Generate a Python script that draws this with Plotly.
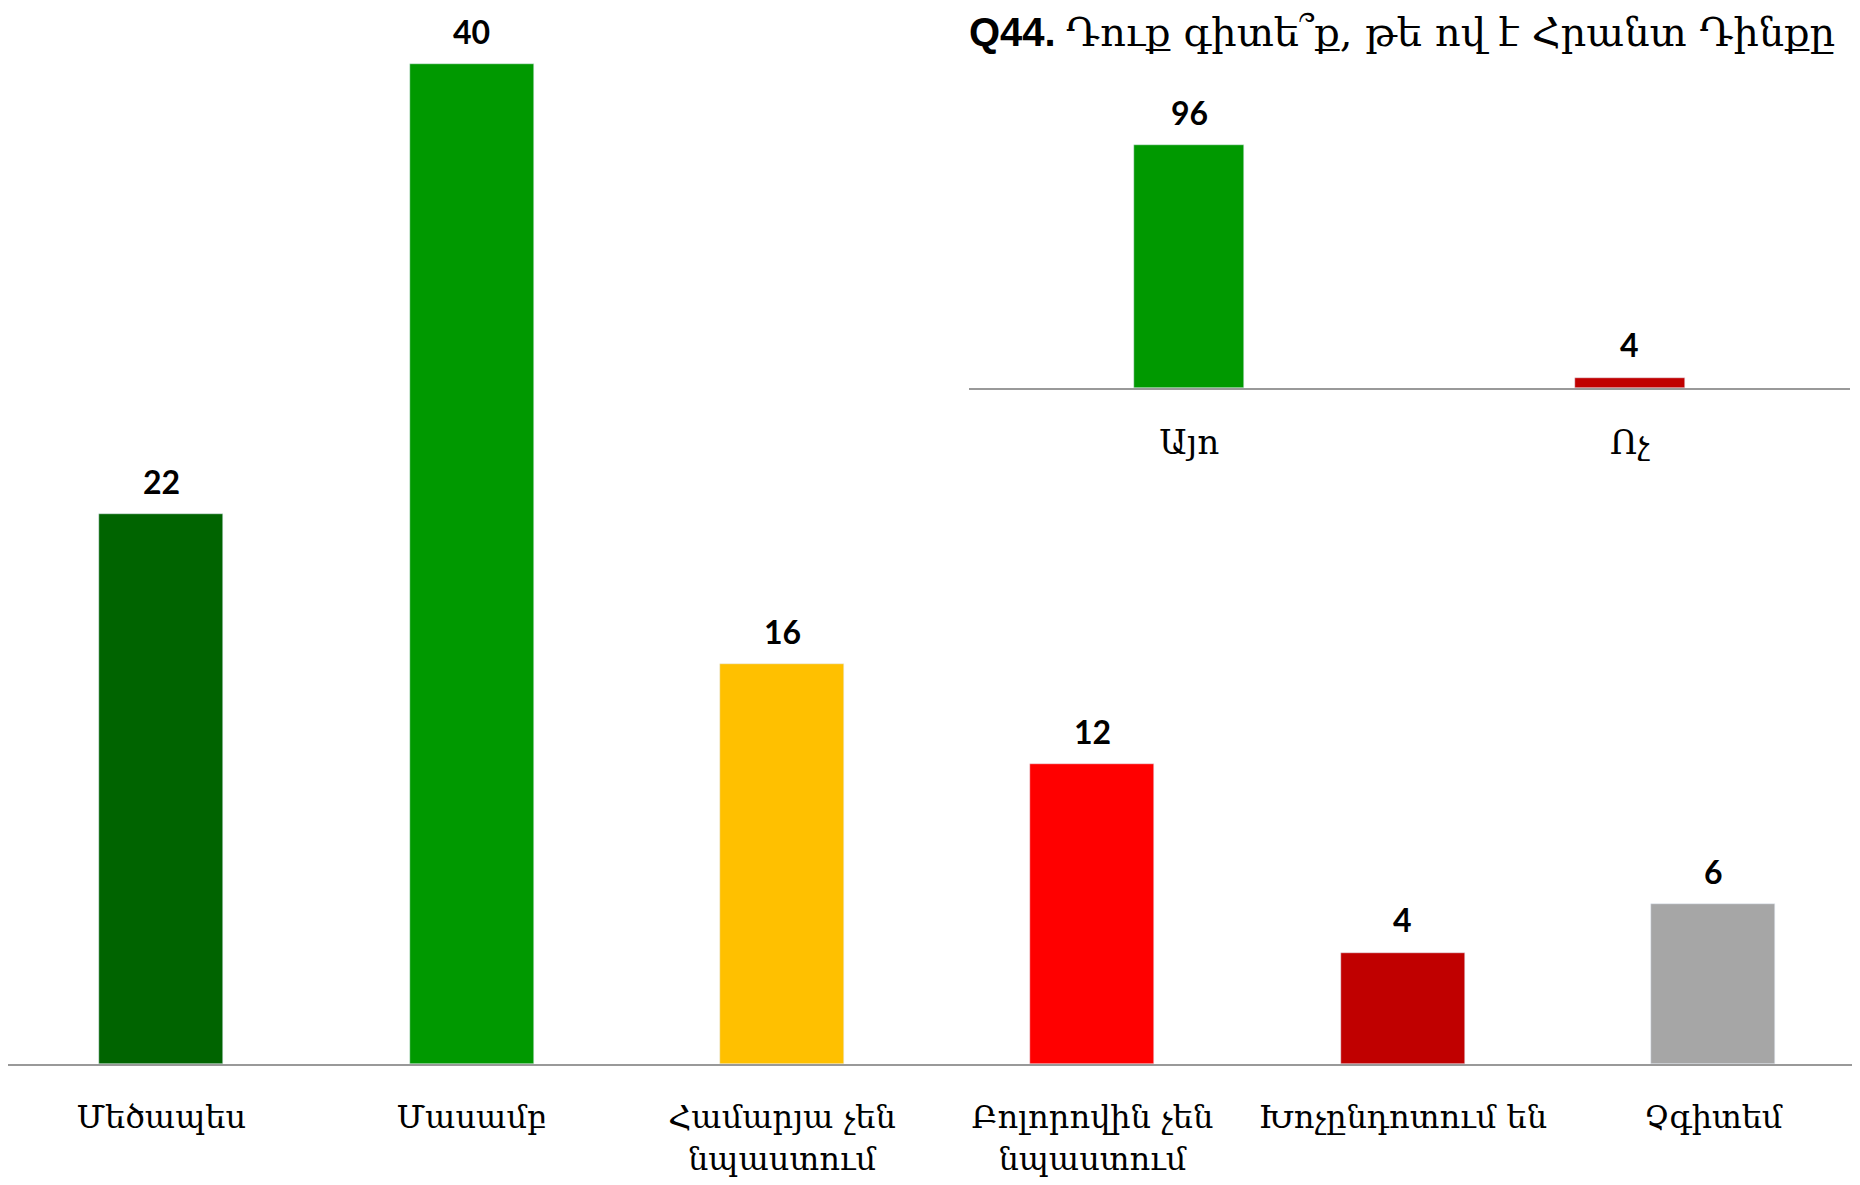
import plotly.graph_objects as go

# Main chart data
categories = ["Մեծապես", "Մասամբ", "Համարյա չեն<br>նպաստում", "Բոլորովին չեն<br>նպաստում",
              "Խոչընդոտում են", "Չգիտեմ"]
values = [22, 40, 16, 12, 4.45, 6.4]
colors = ["#006400", "#009900", "#FFC000", "#FF0000", "#C00000", "#A6A6A6"]

# Inset chart data
inset_categories = ["Այո", "Ոչ"]
inset_values = [96, 4]
inset_colors = ["#009900", "#C00000"]

title_bold = "Q44."
title_text = "Դուք գիտե՞ք, թե ով է Հրանտ Դինքը"

ARM_FONT = "DejaVu Serif, DejaVu Sans, serif"
NUM_FONT = "Lato, Liberation Sans, sans-serif"

# the page body has an 8px margin, so the figure is slightly smaller than the window
W, H = 1852, 1177
BASE = 1056          # main baseline (figure px)
PX_PER_UNIT = 25.0
CAT_W = 310.4        # main category width in px
INSET_BASE = 380     # inset baseline (figure px)
INSET_PX_PER_UNIT = 2.53

fig = go.Figure()
fig.add_trace(go.Bar(x=categories, y=values, marker_color=colors, width=0.4,
                     xaxis="x", yaxis="y", hoverinfo="skip"))
fig.add_trace(go.Bar(x=inset_categories, y=inset_values, marker_color=inset_colors, width=0.25,
                     xaxis="x2", yaxis="y2", hoverinfo="skip"))

annotations = []
for c, v in zip(categories, values):
    annotations.append(dict(x=c, y=v, xref="x", yref="y", text=f"<b>{round(v)}</b>", showarrow=False,
                            yanchor="middle", yshift=33,
                            font=dict(family=NUM_FONT, size=32, color="black")))
for c, v in zip(inset_categories, inset_values):
    annotations.append(dict(x=c, y=v, xref="x2", yref="y2", text=f"<b>{round(v)}</b>", showarrow=False,
                            yanchor="middle", yshift=33,
                            font=dict(family=NUM_FONT, size=32, color="black")))
annotations.append(dict(
    x=959 / W, y=1 - 23 / BASE, xref="paper", yref="paper", xanchor="left", yanchor="middle",
    showarrow=False,
    text=(f"<span style='font-family:Liberation Sans, Arial, sans-serif'><b>{title_bold}</b></span> "
          f"<span style='font-family:DejaVu Serif, serif'>{title_text}</span>"),
    font=dict(size=40, color="black"),
))

axis_line = dict(showline=True, linecolor="#999999", linewidth=2, showgrid=False, zeroline=False,
                 ticks="", fixedrange=True)

x_start = -0.5 + 2.0 / CAT_W
x_end = x_start + W / CAT_W

fig.update_layout(
    width=W, height=H,
    margin=dict(l=0, r=0, t=0, b=H - BASE),
    paper_bgcolor="white", plot_bgcolor="white",
    showlegend=False,
    bargap=0,
    xaxis=dict(domain=[0, 1.0], range=[x_start, x_end], type="category",
               tickfont=dict(family=ARM_FONT, size=32, color="black"),
               ticklabelstandoff=24, **axis_line),
    yaxis=dict(domain=[0, 1], range=[0, BASE / PX_PER_UNIT], visible=False, fixedrange=True),
    xaxis2=dict(domain=[961 / W, 1842 / W], range=[-0.5, 1.5], type="category", anchor="y2",
                tickfont=dict(family=ARM_FONT, size=34, color="black"),
                ticklabelstandoff=23, **axis_line),
    yaxis2=dict(domain=[(BASE - INSET_BASE) / BASE, 1.0], range=[0, INSET_BASE / INSET_PX_PER_UNIT],
                visible=False, anchor="x2", fixedrange=True),
    annotations=annotations,
)

fig.write_html("out.html", config={"displayModeBar": False})
